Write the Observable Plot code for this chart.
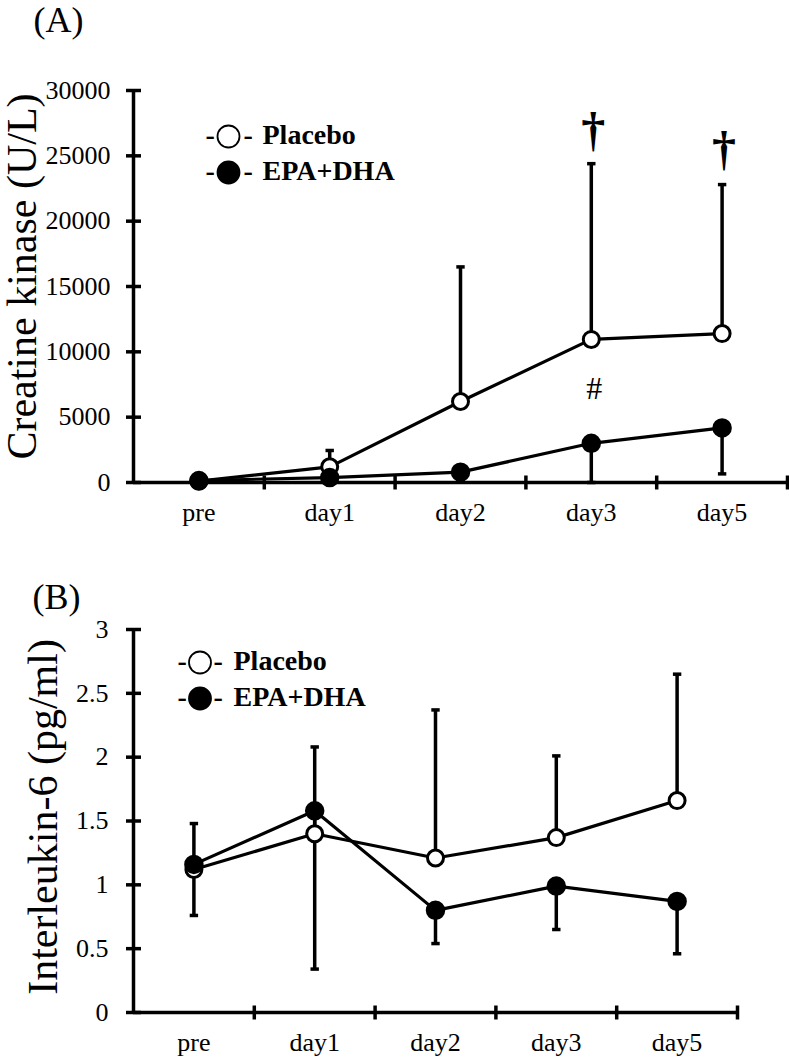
<!DOCTYPE html>
<html><head><meta charset="utf-8">
<script src="https://cdn.jsdelivr.net/npm/d3@7"></script>
<script src="https://cdn.jsdelivr.net/npm/@observablehq/plot@0.6"></script>
<style>
html,body{margin:0;padding:0;background:#fff;}
#chart svg{display:block;}
</style></head><body><div id="chart"></div>
<script>
// ---------- data ----------
const categories = ["pre", "day1", "day2", "day3", "day5"];
const groups = ["Placebo", "EPA+DHA"];

// (A) Creatine kinase (U/L)
const ckPlaceboMean = [100, 1200, 6200, 10950, 11400];
const ckPlaceboSD   = [60, 1250, 10300, 13450, 11400];
const ckEpaMean     = [150, 380, 790, 3000, 4180];
const ckEpaSD       = [60, 250, 600, 3000, 3520];
const ckTicks = [0, 5000, 10000, 15000, 20000, 25000, 30000];
const ckMarkLabels = ["†", "†", "#"];
const ckMarkCats   = ["day3", "day5", "day3"];
const ckMarkValues = [26900, 25500, 7200];

// (B) Interleukin-6 (pg/ml)
const ilPlaceboMean = [1.12, 1.40, 1.21, 1.37, 1.66];
const ilPlaceboSD   = [0.36, 0.68, 1.16, 0.64, 0.99];
const ilEpaMean     = [1.16, 1.58, 0.80, 0.99, 0.87];
const ilEpaSD       = [0.40, 1.24, 0.26, 0.34, 0.41];
const ilTicks = [0, 0.5, 1, 1.5, 2, 2.5, 3];

// ---------- helpers ----------
const FONT = "'Liberation Serif', 'Times New Roman', Times, serif";
const hSymbol = {draw(ctx, size) { const w = Math.sqrt(size / Math.PI); ctx.moveTo(-w, 0); ctx.lineTo(w, 0); }};
const vSymbol = {draw(ctx, size) { const h = Math.sqrt(size / Math.PI); ctx.moveTo(0, -h); ctx.lineTo(0, h); }};

function rowsFor(pm, psd, em, esd) {
  return categories.flatMap((c, i) => [
    {cat: c, pos: i + 0.5, group: groups[0], mean: pm[i], end: pm[i] + psd[i]},
    {cat: c, pos: i + 0.5, group: groups[1], mean: em[i], end: em[i] - esd[i]}
  ]);
}

function panel(cfg) {
  const rows = rowsFor(...cfg.series);
  const bounds = categories.map((c, i) => i + 1);
  const centers = categories.map((c, i) => i + 0.5);
  const y0 = cfg.yDomain[0];
  const txt = {textAnchor: "start", lineAnchor: "bottom", fontSize: 28, fontWeight: "bold", fill: "black", fontFamily: FONT};
  const legend = groups.flatMap((g, i) => [
    Plot.text(["-"], {...txt, text: d => d, frameAnchor: "top-left", dx: cfg.leg.dash1, dy: cfg.leg.base + i * cfg.leg.step}),
    Plot.dot([g], {frameAnchor: "top-left", dx: cfg.leg.dot, dy: cfg.leg.dotY + i * cfg.leg.step, r: 11, fill: i === 0 ? "white" : "black", stroke: "black", strokeWidth: 1.8}),
    Plot.text(["-"], {...txt, text: d => d, frameAnchor: "top-left", dx: cfg.leg.dash2, dy: cfg.leg.base + i * cfg.leg.step}),
    Plot.text([g], {...txt, text: d => d, frameAnchor: "top-left", dx: cfg.leg.label, dy: cfg.leg.base + i * cfg.leg.step})
  ]);
  return Plot.plot({
    width: 789,
    height: cfg.height,
    marginTop: cfg.mt, marginBottom: cfg.mb, marginLeft: 133, marginRight: cfg.mr,
    style: {fontFamily: FONT, background: "white", color: "black", overflow: "visible"},
    x: {domain: [0, 5]},
    y: {domain: cfg.yDomain},
    marks: [
      // error bars
      Plot.ruleX(rows, {x: "pos", y1: "mean", y2: "end", stroke: "black", strokeWidth: 3.5}),
      Plot.dot(rows, {x: "pos", y: "end", symbol: hSymbol, r: 4.2, fill: "none", stroke: "black", strokeWidth: 3.5}),
      // axis lines
      Plot.ruleY([y0], {stroke: "black", strokeWidth: 3.5}),
      Plot.ruleX([0], {stroke: "black", strokeWidth: 3.5}),
      // crossing ticks
      Plot.dot(cfg.ticks, {x: () => 0, y: d => d, symbol: hSymbol, r: 7.5, fill: "none", stroke: "black", strokeWidth: 3.5}),
      Plot.dot(bounds, {x: d => d, y: () => y0, symbol: vSymbol, r: 7, fill: "none", stroke: "black", strokeWidth: 3.5}),
      // tick labels
      Plot.axisY(cfg.ticks, {tickSize: 0, tickPadding: cfg.yPad, tickFormat: d => String(d), fontSize: 26, fill: "black", label: null}),
      Plot.axisX(centers, {tickSize: 0, tickPadding: 20, tickFormat: d => categories[Math.floor(d)], fontSize: 26, fill: "black", label: null}),
      // lines & points
      Plot.line(rows, {x: "pos", y: "mean", z: "group", stroke: "black", strokeWidth: 3.2}),
      Plot.dot(rows.filter(d => d.group === groups[0]), {x: "pos", y: "mean", r: 8, fill: "white", stroke: "black", strokeWidth: 3}),
      Plot.dot(rows.filter(d => d.group === groups[1]), {x: "pos", y: "mean", r: 8, fill: "black", stroke: "black", strokeWidth: 3.5}),
      // titles
      Plot.text([cfg.tag], {text: d => d, frameAnchor: "top-left", dx: cfg.tagDx, dy: cfg.tagDy, textAnchor: "start", lineAnchor: "bottom", fontSize: 36, fill: "black"}),
      Plot.text([cfg.ylabel], {text: d => d, frameAnchor: "left", dx: cfg.ylDx, dy: cfg.ylDy, rotate: -90, textAnchor: "middle", lineAnchor: "bottom", fontSize: 42, fill: "black"}),
      ...legend,
      ...(cfg.extra || [])
    ]
  });
}

const markRows = ckMarkLabels.map((t, i) => ({text: t, pos: categories.indexOf(ckMarkCats[i]) + 0.5, value: ckMarkValues[i]}));

const chartA = panel({
  height: 540, mt: 90, mb: 58, mr: 2,
  yDomain: [0, 30000], ticks: ckTicks, yPad: 23,
  series: [ckPlaceboMean, ckPlaceboSD, ckEpaMean, ckEpaSD],
  tag: "(A)", tagDx: -100, tagDy: -59,
  ylabel: "Creatine kinase (U/L)", ylDx: -98, ylDy: -10,
  leg: {dash1: 72, dot: 95, dash2: 110, label: 129, base: 53, dotY: 46, step: 36},
  extra: [
    Plot.text(markRows.filter(d => d.text === "†"), {x: "pos", y: "value", text: "text", dx: 2, fontSize: 48, fontWeight: "bold", fill: "black"}),
    Plot.text(markRows.filter(d => d.text !== "†"), {x: "pos", y: "value", text: "text", dx: 3, fontSize: 32, fill: "black"})
  ]
});

const chartB = panel({
  height: 519, mt: 89, mb: 47, mr: 52,
  yDomain: [0, 3], ticks: ilTicks, yPad: 25,
  series: [ilPlaceboMean, ilPlaceboSD, ilEpaMean, ilEpaSD],
  tag: "(B)", tagDx: -101, tagDy: -21,
  ylabel: "Interleukin-6 (pg/ml)", ylDx: -77, ylDy: -4,
  leg: {dash1: 44, dot: 66.5, dash2: 80, label: 100, base: 40, dotY: 33, step: 36}
});

document.getElementById("chart").append(chartA, chartB);
</script></body></html>
